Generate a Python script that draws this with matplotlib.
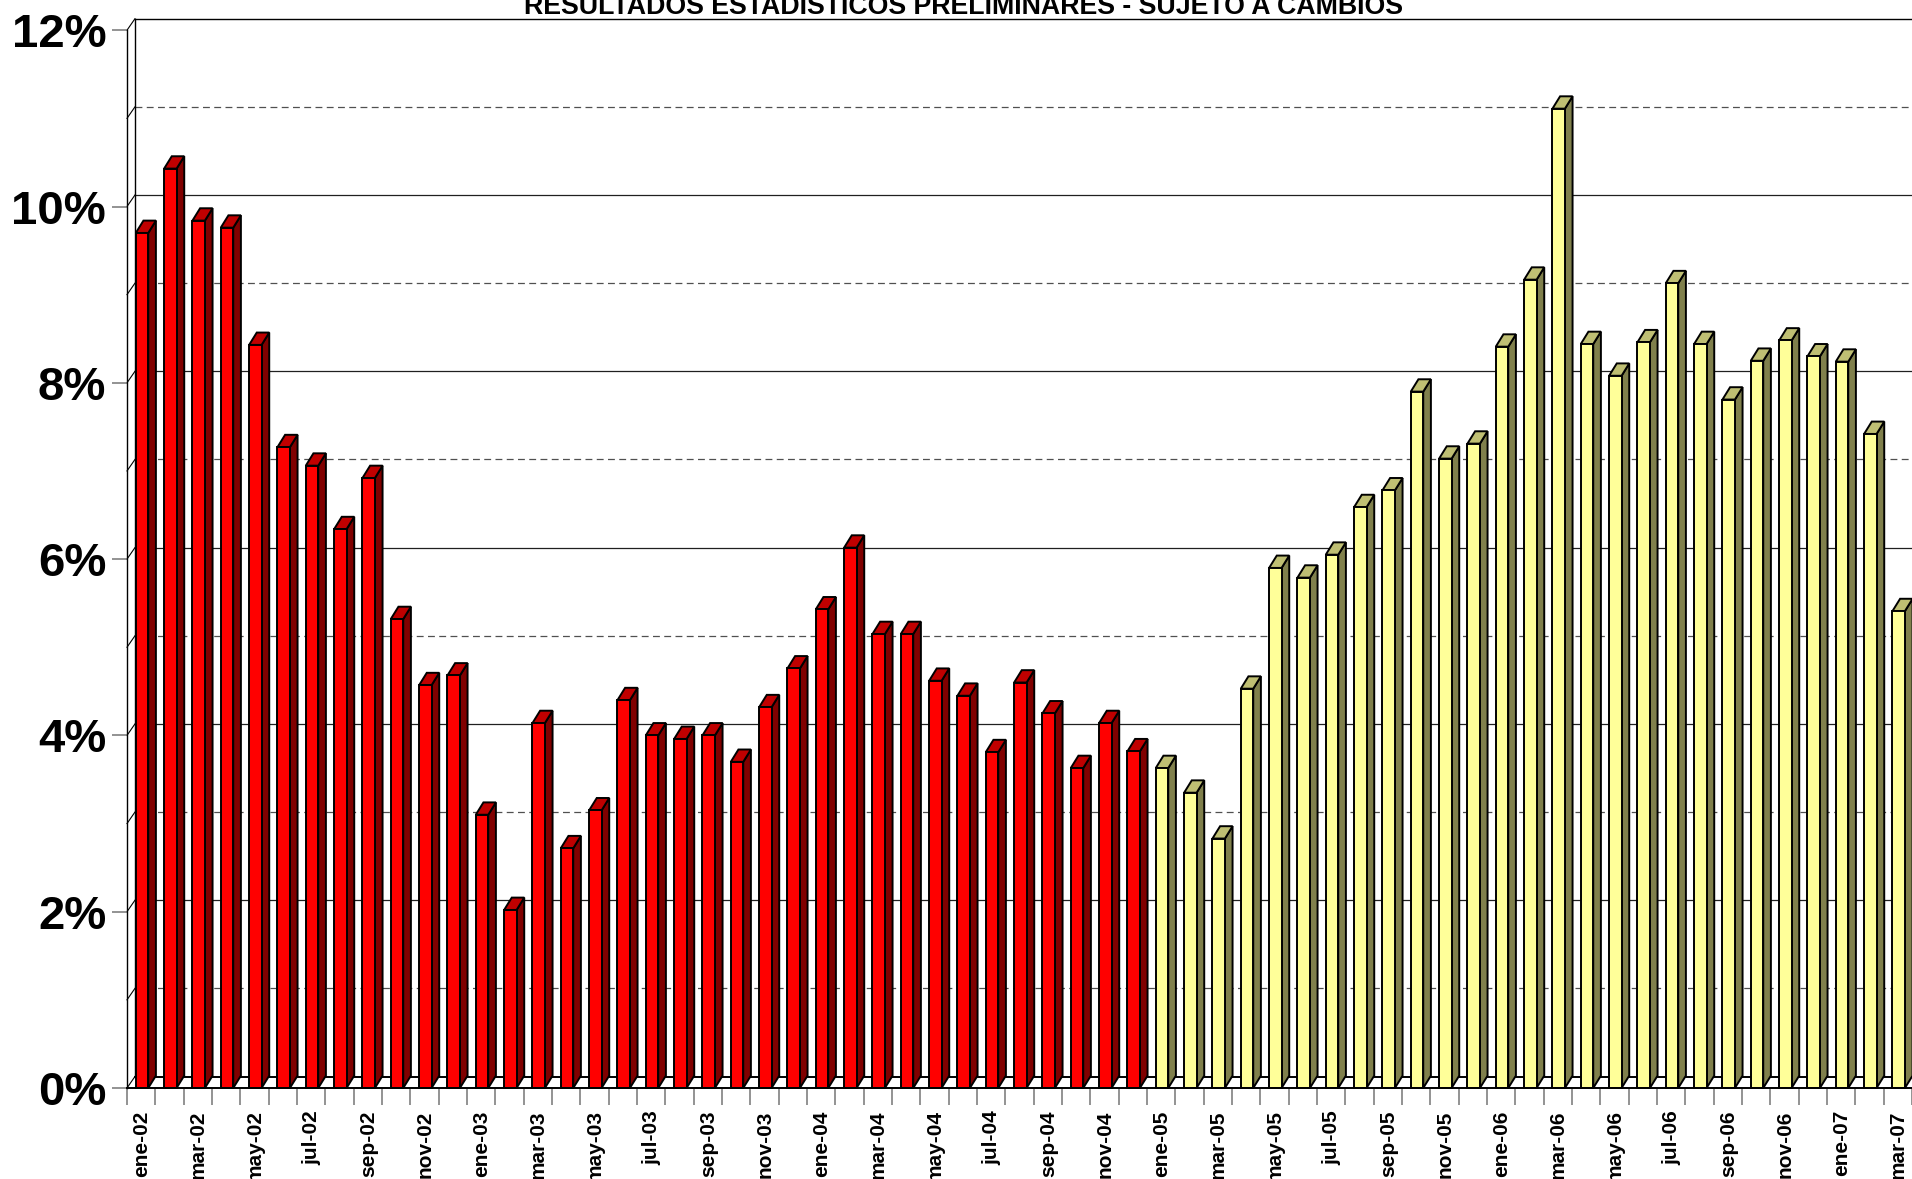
import matplotlib
matplotlib.use("Agg")
import matplotlib.pyplot as plt
from matplotlib.patches import Polygon, Rectangle
import numpy as np

plt.rcParams["font.family"] = ["Liberation Sans", "DejaVu Sans"]
plt.rcParams["font.weight"] = "bold"

# --- data -------------------------------------------------------------
months = ["ene", "feb", "mar", "abr", "may", "jun",
          "jul", "ago", "sep", "oct", "nov", "dic"]
labels = [f"{m}-{y:02d}" for y in range(2, 8) for m in months][:63]

# 2002-2004 (red)
values_red = [9.70, 10.43, 9.84, 9.76, 8.43, 7.27, 7.06, 6.34, 6.92, 5.32, 4.57, 4.68,
              3.10, 2.02, 4.14, 2.72, 3.15, 4.40, 4.00, 3.96, 4.00, 3.70, 4.32, 4.76,
              5.43, 6.13, 5.15, 5.15, 4.62, 4.45, 3.81, 4.60, 4.25, 3.63, 4.14, 3.82]
# 2005-2007 (yellow)
values_yellow = [3.63, 3.35, 2.83, 4.53, 5.90, 5.79, 6.05, 6.59, 6.78, 7.90, 7.14, 7.31,
                 8.41, 9.17, 11.11, 8.44, 8.08, 8.46, 9.13, 8.44, 7.81, 8.25, 8.48, 8.30,
                 8.24, 7.42, 5.41]

title = "RESULTADOS ESTADISTICOS PRELIMINARES - SUJETO A CAMBIOS"

red_colors = ("#FF0000", "#800000", "#C00000")      # front, side, top
yellow_colors = ("#FFFF99", "#80804C", "#BFBF73")

# --- figure -----------------------------------------------------------
fig = plt.figure(figsize=(19.12, 11.79), dpi=100)
ax = fig.add_axes([127 / 1912, 91 / 1179, 1785 / 1912, 1057.8 / 1179])
ax.set_xlim(0, 1785 / 28.4)
ax.set_ylim(0, 12)

# 3D depth in data units
WDX, WDY = 0.28, 0.13   # walls
BDX, BDY = 0.27, 0.14   # bars
X0, W = 0.31, 0.44      # bar front face position / width inside category
xmax = ax.get_xlim()[1] + 1

# back wall gridlines
for v in range(1, 12):
    if v % 2 == 0:
        ax.plot([WDX, xmax], [v + WDY] * 2, color="#202020", lw=0.9,
                clip_on=False, zorder=1)
    else:
        ax.plot([WDX, xmax], [v + WDY] * 2, color="#505050", lw=0.9,
                ls=(0, (5.5, 3.5)), clip_on=False, zorder=1)
# back wall frame and floor
ax.plot([WDX, xmax], [12 + WDY] * 2, color="black", lw=1.0, clip_on=False, zorder=1)
ax.plot([WDX, WDX], [WDY, 12 + WDY], color="black", lw=1.0, clip_on=False, zorder=1)
ax.plot([WDX, xmax], [WDY, WDY], color="black", lw=1.4, clip_on=False, zorder=1)
# left wall diagonals
for v in range(0, 13):
    ax.plot([0, WDX], [v, v + WDY], color="black", lw=0.8, clip_on=False, zorder=1)

# bars
values = values_red + values_yellow
for i, v in enumerate(values):
    face, side, top = red_colors if i < len(values_red) else yellow_colors
    x0 = i + X0
    x1 = x0 + W
    ax.add_patch(Polygon([(x1, 0), (x1 + BDX, BDY), (x1 + BDX, v + BDY), (x1, v)],
                         closed=True, fc=side, ec="black", lw=1.4, zorder=3,
                         clip_on=False))
    ax.add_patch(Polygon([(x0, v), (x0 + BDX, v + BDY), (x1 + BDX, v + BDY), (x1, v)],
                         closed=True, fc=top, ec="black", lw=1.4, zorder=3,
                         clip_on=False))
    ax.add_patch(Rectangle((x0, 0), W, v, fc=face, ec="black", lw=1.4, zorder=4,
                           clip_on=False))

# axes / spines
for s in ["top", "right"]:
    ax.spines[s].set_visible(False)
ax.spines["left"].set_linewidth(1.0)
ax.spines["bottom"].set_linewidth(1.4)
ax.spines["left"].set_zorder(5)
ax.spines["bottom"].set_zorder(5)

yt = list(range(0, 13, 2))
ax.set_yticks(yt, [f"{t}%" for t in yt])
ax.tick_params(axis="y", length=11, width=1.2, color="#808080", pad=4,
               labelsize=34)

ax.set_xticks(np.arange(0, len(labels), 2) + 0.52, labels[::2], rotation=90)
ax.set_xticks(np.arange(0, len(labels) + 1), minor=True)
ax.tick_params(axis="x", which="major", length=0, pad=16, labelsize=15)
ax.tick_params(axis="x", which="minor", length=12, width=1.2, color="#808080")

fig.text(0.5037, 1 - 13.5 / 1179, title, ha="center", va="baseline",
         fontsize=19.3, fontweight="bold")

fig.savefig("out.png", dpi=100)
